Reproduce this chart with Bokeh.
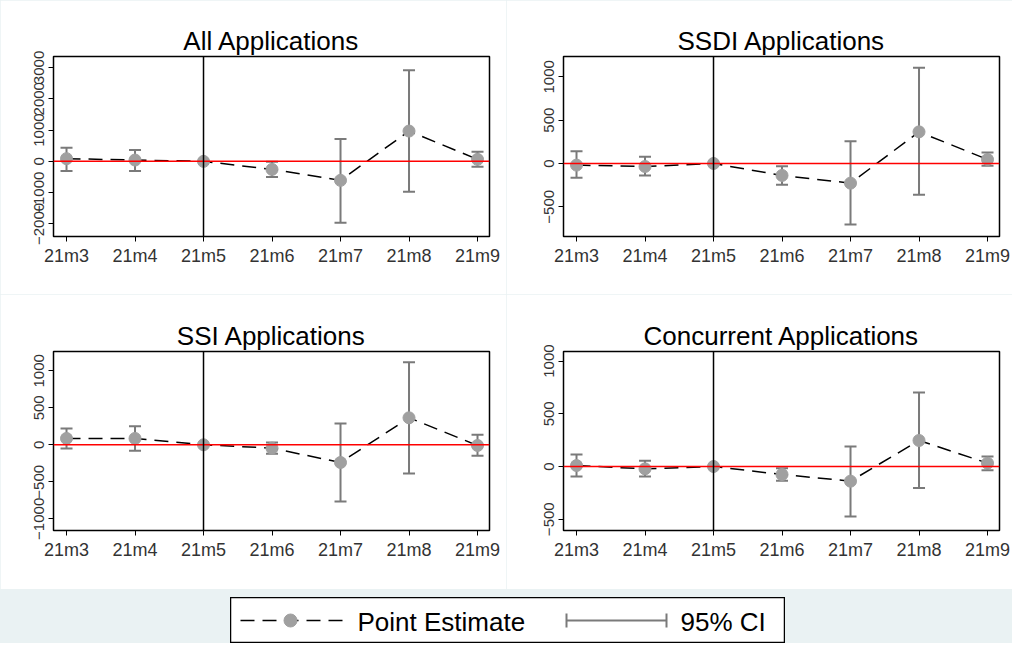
from bokeh.plotting import figure
from bokeh.models import ColumnDataSource, Whisker, TeeHead, FixedTicker, Span, Spacer
from bokeh.layouts import row, column
from bokeh.core.properties import value
from bokeh.embed import file_html
from bokeh.resources import INLINE

months = ["21m3", "21m4", "21m5", "21m6", "21m7", "21m8", "21m9"]

all_est = [86, 42, 0, -256, -607, 968, 64]
all_lo = [-310, -310, None, -500, -1960, -968, -170]
all_hi = [437, 360, None, -10, 712, 2907, 310]

ssdi_est = [-19, -35, 0, -138, -227, 365, 46]
ssdi_lo = [-165, -138, None, -246, -704, -362, -27]
ssdi_hi = [142, 77, None, -31, 258, 1104, 127]

ssi_est = [86, 86, 0, -45, -239, 365, -9]
ssi_lo = [-50, -81, None, -122, -766, -387, -149]
ssi_hi = [221, 252, None, 32, 288, 1117, 135]

conc_est = [9, -22, 0, -76, -139, 247, 32]
conc_lo = [-95, -95, None, -136, -475, -203, -35]
conc_hi = [114, 54, None, -16, 190, 703, 95]

BG = "#eaf2f3"
FONT = "Liberation Sans"
GREY_CI = "#7a7a7a"
GREY_PT = "#a0a0a0"
DASH = "14 8"


def panel(title, est, lo, hi, yrange, yticks, borders):
    left, right, top, bottom, w, h = borders
    p = figure(width=w, height=h, title=title, x_range=(-0.19, 6.175), y_range=yrange,
               toolbar_location=None, output_backend="svg",
               min_border_left=left, min_border_right=right,
               min_border_top=top, min_border_bottom=bottom,
               background_fill_color="white", border_fill_color="white")
    p.title.text_font = FONT
    p.title.text_font_size = "26px"
    p.title.text_font_style = "normal"
    p.title.align = "center"
    p.title.text_color = "black"
    p.title.standoff = 2
    p.outline_line_color = "black"
    p.outline_line_width = 1.5
    p.grid.visible = False

    p.xaxis.ticker = FixedTicker(ticks=list(range(len(months))))
    p.xaxis.major_label_overrides = {i: m for i, m in enumerate(months)}
    p.yaxis.ticker = FixedTicker(ticks=yticks)
    p.yaxis.major_label_orientation = "vertical"
    p.xaxis.major_label_text_font_size = "18px"
    p.yaxis.major_label_text_font_size = "15px"
    for ax in (p.xaxis, p.yaxis):
        ax.major_label_text_font = FONT
        ax.major_label_text_color = "#333333"
        ax.axis_line_color = "black"
        ax.major_tick_line_color = "black"
        ax.major_tick_out = 5
        ax.major_tick_in = 0
        ax.minor_tick_line_color = None
        ax.major_label_standoff = 4

    p.add_layout(Span(location=0, dimension="width", line_color="red", line_width=1.5))
    p.add_layout(Span(location=2, dimension="height", line_color="black", line_width=1.5))

    xs = list(range(len(months)))
    ci_x = [x for x, l in zip(xs, lo) if l is not None]
    ci_lo = [l for l in lo if l is not None]
    ci_hi = [u for u in hi if u is not None]
    ci = ColumnDataSource(dict(x=ci_x, lower=ci_lo, upper=ci_hi))
    p.add_layout(Whisker(source=ci, base="x", lower="lower", upper="upper",
                         line_color=GREY_CI, line_width=2,
                         upper_head=TeeHead(size=12, line_color=GREY_CI, line_width=2),
                         lower_head=TeeHead(size=12, line_color=GREY_CI, line_width=2)))

    src = ColumnDataSource(dict(x=xs, y=est))
    p.line("x", "y", source=src, line_color="black", line_width=1.5, line_dash=DASH)
    p.scatter("x", "y", source=src, size=12, fill_color=GREY_PT, line_color=GREY_PT)
    return p


p1 = panel("All Applications", all_est, all_lo, all_hi, (-2400, 3350),
           [-2000, -1000, 0, 1000, 2000, 3000], (53, 17, 56, 58, 506, 294))
p2 = panel("SSDI Applications", ssdi_est, ssdi_lo, ssdi_hi, (-843, 1235),
           [-500, 0, 500, 1000], (57, 13, 56, 58, 506, 294))
p3 = panel("SSI Applications", ssi_est, ssi_lo, ssi_hi, (-1158, 1261),
           [-1000, -500, 0, 500, 1000], (53, 17, 57, 59, 506, 295))
p4 = panel("Concurrent Applications", conc_est, conc_lo, conc_hi, (-607, 1091),
           [-500, 0, 500, 1000], (57, 13, 57, 59, 506, 295))

# legend key drawn in a small figure of its own
lg = figure(width=555, height=46, x_range=(0, 555), y_range=(0, 46),
            toolbar_location=None, output_backend="svg",
            min_border=0, background_fill_color="white", border_fill_color="white")
lg.axis.visible = False
lg.grid.visible = False
lg.outline_line_color = "black"
lg.outline_line_width = 1.5
key = ColumnDataSource(dict(x0=[10], x1=[112], y=[23], xm=[60]))
lg.segment("x0", "y", "x1", "y", source=key, line_color="black", line_width=1.5, line_dash=DASH)
lg.scatter("xm", "y", source=key, size=13, fill_color=GREY_PT, line_color=GREY_PT)
ckey = ColumnDataSource(dict(x0=[336], x1=[436], y=[23], lo=[16], hi=[30]))
lg.segment("x0", "y", "x1", "y", source=ckey, line_color=GREY_CI, line_width=2)
lg.segment("x0", "lo", "x0", "hi", source=ckey, line_color=GREY_CI, line_width=2)
lg.segment("x1", "lo", "x1", "hi", source=ckey, line_color=GREY_CI, line_width=2)
labels = ColumnDataSource(dict(x=[127, 450], y=[22, 22], t=["Point Estimate", "95% CI"]))
lg.text("x", "y", text="t", source=labels, text_font=value(FONT), text_font_size="26px",
        text_baseline="middle", text_color="black")

layout = column(
    column(row(p1, p2, spacing=0), row(p3, p4, spacing=0), spacing=0),
    row(Spacer(width=230, height=46), lg, spacing=0),
    spacing=8,
    styles={"background-color": BG},
)

open("out.html", "w").write(file_html(layout, INLINE))
